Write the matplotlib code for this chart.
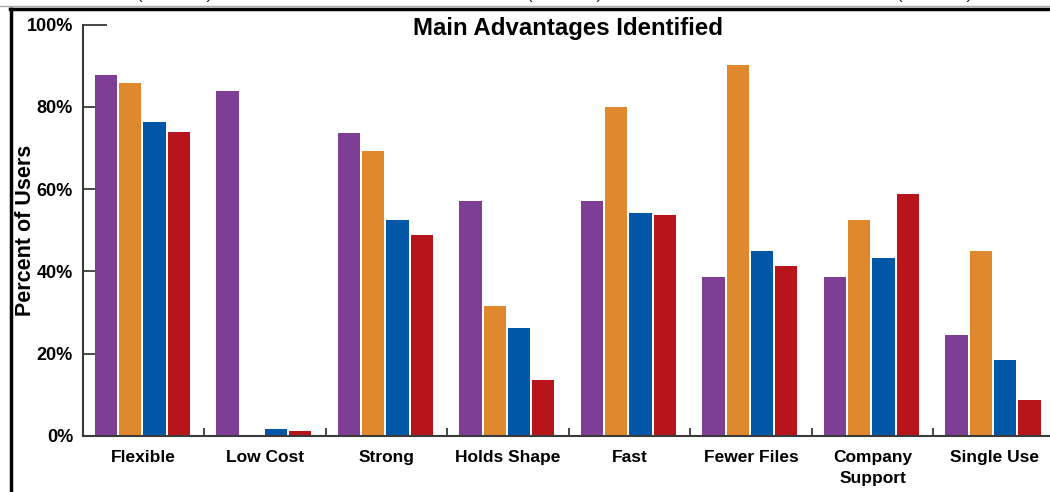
import matplotlib
matplotlib.use("Agg")
import matplotlib.pyplot as plt
from matplotlib.lines import Line2D
import numpy as np

# === Data ===
categories = ["Flexible", "Low Cost", "Strong", "Holds Shape", "Fast",
              "Fewer Files", "Company\nSupport", "Single Use"]
group_a = [87.7, 83.8, 73.6, 57.1, 57.1, 38.6, 38.6, 24.5]
group_b = [85.8, 0.0, 69.3, 31.6, 80.0, 90.2, 52.5, 45.0]
group_c = [76.3, 1.7, 52.5, 26.2, 54.2, 45.0, 43.3, 18.5]
group_d = [73.9, 1.2, 48.8, 13.6, 53.7, 41.3, 58.8, 8.7]
series = [group_a, group_b, group_c, group_d]
colors = ["#7E3E96", "#E0882E", "#0057A8", "#B8141B"]
y_ticks = [0, 20, 40, 60, 80, 100]
y_tick_labels = ["0%", "20%", "40%", "60%", "80%", "100%"]
header_labels = ["(14 users)", "(14 users)", "(14 users)"]

sans = ["Liberation Sans", "DejaVu Sans"]

fig = plt.figure(figsize=(10.5, 4.92), dpi=100)
ax = fig.add_axes([82.8 / 1050, 1 - 436 / 492, 972.1 / 1050, 411.5 / 492])

x = np.arange(len(categories))
offsets = [-0.3, -0.1, 0.1, 0.3]
for vals, off, col in zip(series, offsets, colors):
    ax.bar(x + 0.49 + off, vals, width=0.183, color=col, zorder=2)

ax.set_xlim(0, len(categories))
ax.set_ylim(0, 100)

# spines
for s in ["top", "right"]:
    ax.spines[s].set_visible(False)
for s in ["left", "bottom"]:
    ax.spines[s].set_color("#3a3a3a")
    ax.spines[s].set_linewidth(1.5)

# y axis
ax.set_yticks(y_ticks)
ax.set_yticklabels(y_tick_labels, family=sans, fontsize=13, fontweight="bold")
ax.tick_params(axis="y", direction="in", length=9, width=1.3, color="#3a3a3a", pad=7)
top_tick = ax.yaxis.get_major_ticks()[-1]
top_tick.tick1line.set_color("#7E3E96")
top_tick.tick1line.set_markersize(17)
ax.set_ylabel("Percent of Users", family=sans, fontsize=15.5, fontweight="bold")
ax.yaxis.set_label_coords(-0.048, 0.5)

# x axis: ticks between groups, labels at centres
ax.set_xticks(np.arange(1, len(categories)))
ax.set_xticklabels([])
ax.tick_params(axis="x", which="major", direction="in", length=6, width=1.3, color="#3a3a3a")
ax.set_xticks(x + 0.5, minor=True)
ax.set_xticklabels(categories, minor=True, family=sans, fontsize=12.5, fontweight="bold",
                   linespacing=1.5, va="top")
ax.tick_params(axis="x", which="minor", length=0, pad=10)

# title
fig.text(568 / 1050, 1 - 28 / 492, "Main Advantages Identified", ha="center", va="center",
         family=sans, fontsize=17.3, fontweight="heavy")

# slide frame
fig.add_artist(Line2D([0, 1], [1 - 6 / 492] * 2, color="#aaaaaa", lw=1, transform=fig.transFigure))
fig.add_artist(Line2D([10 / 1050, 1], [1 - 9 / 492] * 2, color="black", lw=2.5,
                      transform=fig.transFigure))
fig.add_artist(Line2D([11 / 1050] * 2, [0, 1 - 9 / 492], color="black", lw=2.5,
                      transform=fig.transFigure))

# cut-off headers above the frame
for xc, lab in zip([175, 565, 935], header_labels):
    fig.text(xc / 1050, 1 + 5 / 492, lab, ha="center", va="center",
             family=sans, fontsize=12, color="#222222")

fig.savefig("out.png", dpi=100)
